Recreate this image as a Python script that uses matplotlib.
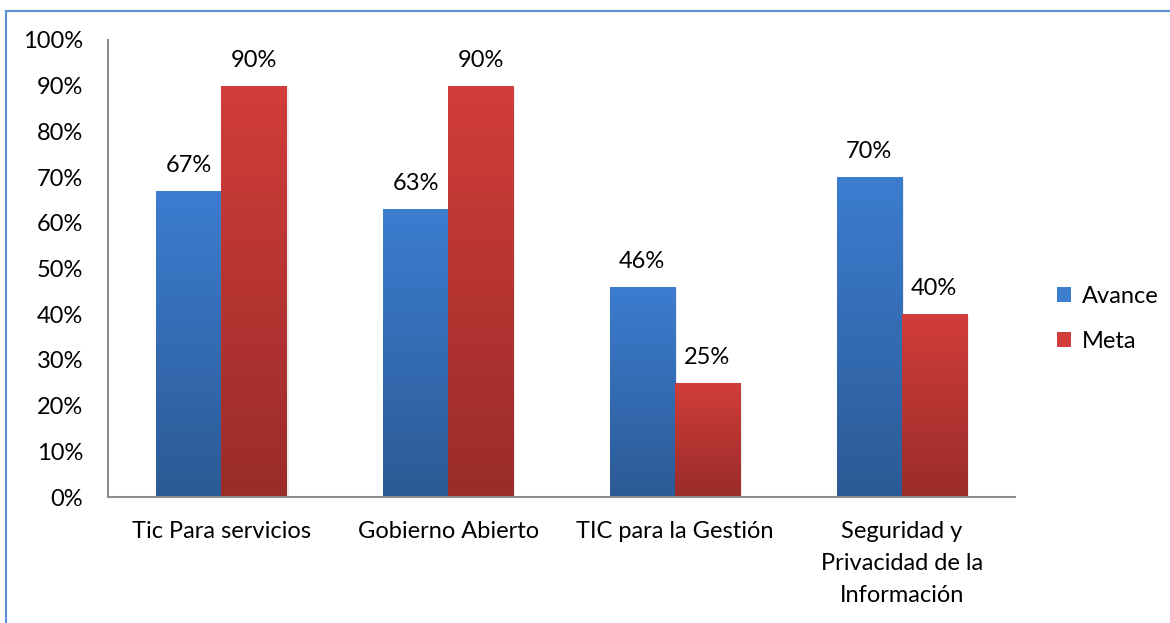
import numpy as np
import matplotlib
matplotlib.use('Agg')
import matplotlib.pyplot as plt
from matplotlib.colors import LinearSegmentedColormap
from matplotlib.patches import Rectangle
from matplotlib.lines import Line2D

plt.rcParams['font.family'] = ['Lato', 'DejaVu Sans']

categorias = ['Tic Para servicios', 'Gobierno Abierto', 'TIC para la Gestión',
              'Seguridad y\nPrivacidad de la\nInformación']
avance = [67, 63, 46, 70]
meta = [90, 90, 25, 40]
series = ['Avance', 'Meta']

colores = {
    'Avance': ('#3c7dd0', '#2c5a95'),
    'Meta': ('#d13d3a', '#9a2c2a'),
}

fs = 17

fig = plt.figure(figsize=(11.7, 6.23), dpi=100)
ax = fig.add_axes([0.0923, 0.2022, 0.7752, 0.7336])

# marco del grafico
fig.add_artist(Line2D([6 / 1170, 6 / 1170], [0, 1 - 11 / 623], transform=fig.transFigure,
                      color='#5b8fd6', lw=1.5))
fig.add_artist(Line2D([6 / 1170, 1], [1 - 11 / 623, 1 - 11 / 623], transform=fig.transFigure,
                      color='#5b8fd6', lw=1.5))

x = np.arange(len(categorias))
w = 0.287
grad = np.linspace(0, 1, 256).reshape(-1, 1)

for vals, nombre, off in [(avance, 'Avance', -w / 2), (meta, 'Meta', w / 2)]:
    top, bot = colores[nombre]
    cmap = LinearSegmentedColormap.from_list(nombre, [bot, top])
    bars = ax.bar(x + off, vals, w, color='none', edgecolor='none', zorder=2)
    for b, v in zip(bars, vals):
        x0 = b.get_x()
        # sombra suave
        ax.add_patch(Rectangle((x0 + 0.01, 0), w, v - 0.4, facecolor='#000000',
                               alpha=0.07, edgecolor='none', zorder=1))
        im = ax.imshow(grad, cmap=cmap, aspect='auto', origin='lower',
                       extent=[x0, x0 + w, 0, v], zorder=2)
        im.set_clip_path(b)
        ax.text(x0 + w / 2, v + 3.3, f'{v}%', ha='center', va='bottom', fontsize=fs)

ax.set_xlim(-0.5, len(categorias) - 0.5)
ax.set_ylim(0, 100)
ax.set_yticks(range(0, 101, 10))
ax.set_yticklabels([f'{t}%' for t in range(0, 101, 10)], fontsize=fs)
ax.set_xticks(x)
ax.set_xticklabels(categorias, fontsize=fs, linespacing=1.65, va='top')
ax.tick_params(axis='both', length=0)
ax.tick_params(axis='y', pad=18)
ax.tick_params(axis='x', pad=17)
for s in ['top', 'right']:
    ax.spines[s].set_visible(False)
for s in ['left', 'bottom']:
    ax.spines[s].set_color('#8c8c8c')
    ax.spines[s].set_linewidth(1.5)

handles = [Rectangle((0, 0), 1, 1, facecolor=colores[n][0]) for n in series]
ax.legend(handles, series, loc='center left', bbox_to_anchor=(1.036, 0.39),
          frameon=False, fontsize=fs, handlelength=0.6, handleheight=0.6,
          handletextpad=0.45, labelspacing=1.0, borderaxespad=0)

fig.savefig('out.png', dpi=100, facecolor='white')
